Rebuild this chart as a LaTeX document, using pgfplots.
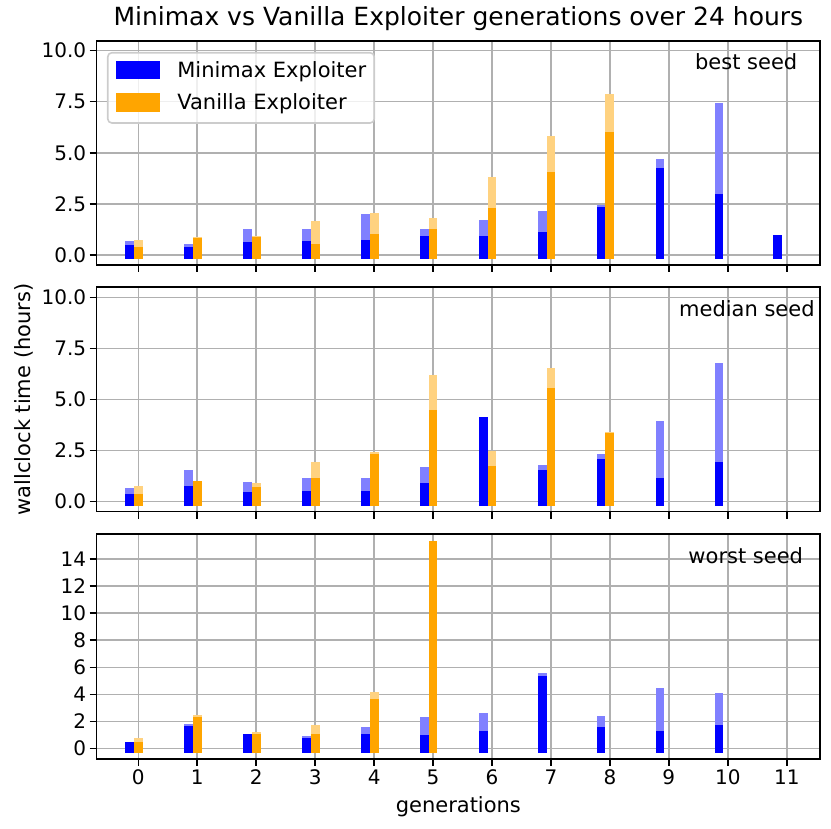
\documentclass[border=0pt]{standalone}
\usepackage{fontspec}
\setmainfont{DejaVu Sans}
\usepackage{pgfplots}
\usepackage{pgfplotstable}
\pgfplotsset{compat=1.18}
\definecolor{mblue}{RGB}{0,0,255}
\definecolor{morange}{RGB}{255,165,0}
\definecolor{mbluel}{RGB}{128,128,255}
\definecolor{morangel}{RGB}{255,210,128}
\definecolor{gridgray}{RGB}{176,176,176}

\pgfplotstableread{
gen bl bs ol os
0 0.47 0.27 0.52 0.18
1 0.32 0.19 0.64 0.62
2 1.04 0.41 0.70 0.67
3 1.06 0.46 1.45 0.34
4 1.81 0.50 1.84 0.80
5 1.06 0.70 1.58 1.07
6 1.50 0.73 3.60 2.09
7 1.94 0.91 5.59 3.86
8 2.25 2.12 7.65 5.81
9 4.47 4.06 nan nan
10 7.22 2.76 nan nan
11 0.78 0.78 nan nan
}\best

\pgfplotstableread{
gen bl bs ol os
0 0.44 0.18 0.55 0.18
1 1.32 0.55 0.81 0.80
2 0.75 0.27 0.70 0.48
3 0.94 0.32 1.73 0.96
4 0.96 0.32 2.23 2.10
5 1.46 0.68 5.98 4.29
6 3.94 3.94 2.25 1.55
7 1.59 1.32 6.34 5.36
8 2.13 1.89 3.18 3.16
9 3.73 0.94 nan nan
10 6.57 1.74 nan nan
}\median

\pgfplotstableread{
gen bl bs ol os
0 0.14 0.14 0.42 0.14
1 1.48 1.33 2.12 2.02
2 0.71 0.71 0.86 0.74
3 0.59 0.42 1.43 0.76
4 1.25 0.76 3.82 3.35
5 1.99 0.64 15.06 15.06
6 2.29 0.93 nan nan
7 5.25 5.06 nan nan
8 2.09 1.25 nan nan
9 4.17 0.96 nan nan
10 3.80 1.38 nan nan
}\worst

\pgfplotsset{
  panel/.style={
    scale only axis, width=723.3pt,
    anchor=south west,
    xmin=-0.706, xmax=11.564,
    xtick={0,...,11},
    grid=major,
    grid style={line width=1.6pt, gridgray},
    axis line style={line width=1.6pt, black},
    tick style={line width=1.6pt, black},
    major tick length=7pt,
    tick align=outside,
    tick pos=left,
    tick label style={font=\fontsize{20}{24}\selectfont},
    /pgf/number format/assume math mode=true,
  },
  % data layer drawn after the frame+grid axis, so the bars cover the grid
  dlayer/.style={
    scale only axis, width=723.3pt,
    anchor=south west,
    xmin=-0.706, xmax=11.564,
    hide axis,
  },
  lbar/.style={ycomb, mark=none, line width=8.84pt, line cap=rect, forget plot},
}
\tikzset{seedlabel/.style={anchor=base east, font=\fontsize{21}{25}\selectfont}}

\begin{document}
\begin{tikzpicture}

% ---------- best seed ----------
\begin{axis}[panel, at={(96.7pt,564pt)}, height=224pt,
  ymin=-0.49, ymax=10.47,
  ytick={0,2.5,5,7.5,10}, yticklabels={0.0,2.5,5.0,7.5,10.0},
  xticklabels={},
  title={Minimax vs Vanilla Exploiter generations over 24 hours},
  title style={font=\fontsize{25}{30}\selectfont, at={(axis description cs:0.5,1)}, anchor=base, yshift=9.3pt},
]
\end{axis}
\begin{axis}[dlayer, at={(96.7pt,564pt)}, height=224pt,
  ymin=-0.49, ymax=10.47,
  legend style={at={(axis description cs:0.0142,0.951)}, anchor=north west,
    draw=black!20, line width=1.6pt, rounded corners=4pt,
    fill=white, fill opacity=0.8, text opacity=1,
    inner xsep=8pt, inner ysep=8pt,
    font=\fontsize{21}{25}\selectfont,
    nodes={inner sep=0pt, text height=15pt, text depth=5pt, anchor=base west},
    column sep=17pt, row sep=11pt},
  legend cell align=left,
]
\addplot[lbar, mbluel] table[x expr=\thisrow{gen}-0.15, y=bl]{\best};
\addplot[lbar, mblue] table[x expr=\thisrow{gen}-0.15, y=bs]{\best};
\addplot[lbar, morangel] table[x=gen, y=ol]{\best};
\addplot[lbar, morange] table[x=gen, y=os]{\best};
\addlegendimage{legend image code/.code={\fill[mblue, fill opacity=1, sharp corners] (0pt,-1.2pt) rectangle (43pt,15.8pt);}}
\addlegendentry{Minimax Exploiter}
\addlegendimage{legend image code/.code={\fill[morange, fill opacity=1, sharp corners] (0pt,-1.2pt) rectangle (43pt,15.8pt);}}
\addlegendentry{Vanilla Exploiter}
\node[seedlabel] at (axis description cs:0.9735,0.874) {best seed};
\end{axis}

% ---------- median seed ----------
\begin{axis}[panel, at={(96.7pt,317.3pt)}, height=224.4pt,
  ymin=-0.49, ymax=10.49,
  ytick={0,2.5,5,7.5,10}, yticklabels={0.0,2.5,5.0,7.5,10.0},
  xticklabels={},
  ylabel={wallclock time (hours)},
  ylabel style={font=\fontsize{21}{25}\selectfont, at={(axis description cs:-0.0915,0.5)}, anchor=base},
]
\end{axis}
\begin{axis}[dlayer, at={(96.7pt,317.3pt)}, height=224.4pt,
  ymin=-0.49, ymax=10.49,
]
\addplot[lbar, mbluel] table[x expr=\thisrow{gen}-0.15, y=bl]{\median};
\addplot[lbar, mblue] table[x expr=\thisrow{gen}-0.15, y=bs]{\median};
\addplot[lbar, morangel] table[x=gen, y=ol]{\median};
\addplot[lbar, morange] table[x=gen, y=os]{\median};
\node[seedlabel] at (axis description cs:0.9975,0.872) {median seed};
\end{axis}

% ---------- worst seed ----------
\begin{axis}[panel, at={(96.7pt,70pt)}, height=224.7pt,
  ymin=-0.79, ymax=15.85,
  ytick={0,2,4,6,8,10,12,14}, yticklabels={0,2,4,6,8,10,12,14},
  xticklabels={0,1,2,3,4,5,6,7,8,9,10,11},
  xlabel={generations},
  xlabel style={font=\fontsize{21}{25}\selectfont, at={(axis description cs:0.5,-0.2372)}, anchor=base},
]
\end{axis}
\begin{axis}[dlayer, at={(96.7pt,70pt)}, height=224.7pt,
  ymin=-0.79, ymax=15.85,
]
\addplot[lbar, mbluel] table[x expr=\thisrow{gen}-0.15, y=bl]{\worst};
\addplot[lbar, mblue] table[x expr=\thisrow{gen}-0.15, y=bs]{\worst};
\addplot[lbar, morangel] table[x=gen, y=ol]{\worst};
\addplot[lbar, morange] table[x=gen, y=os]{\worst};
\node[seedlabel] at (axis description cs:0.9815,0.871) {worst seed};
\end{axis}

\pgfresetboundingbox
\path (0pt,0pt) rectangle (831pt,829pt);
\end{tikzpicture}
\end{document}
